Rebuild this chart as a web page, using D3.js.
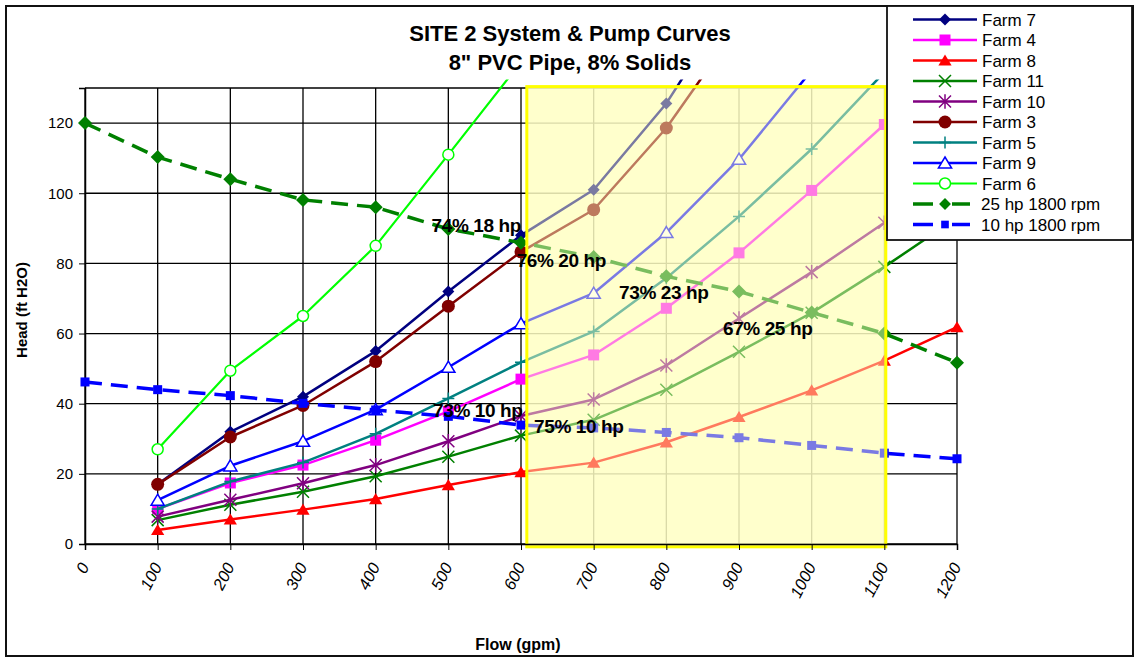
<!DOCTYPE html>
<html><head><meta charset="utf-8">
<script src="https://cdn.jsdelivr.net/npm/d3@7"></script>
<style>body{margin:0;background:#fff;} svg{display:block;font-family:"Liberation Sans",Arial,sans-serif;}</style>
</head><body>
<svg id="c" width="1135" height="659"></svg>
<script>
// ---- data ----
const flows = [0,100,200,300,400,500,600,700,800,900,1000,1100,1200];
const xTicks = [0,100,200,300,400,500,600,700,800,900,1000,1100,1200];
const yTicks = [0,20,40,60,80,100,120];
const farm7  = [null,17,32,42,55,72,88,101,125.6,158,null,null,null];
const farm4  = [null,10,17.4,22.5,29.6,37.8,47,53.9,67.2,83,100.8,119.6,null];
const farm8  = [null,4,7,9.8,12.8,16.8,20.5,23.2,29,36.2,43.8,52.3,61.8];
const farm11 = [null,6.8,11.2,14.9,19.3,24.9,30.9,35.4,44,54.8,65.9,79,93];
const farm10 = [null,7.8,12.6,17.3,22.5,29.3,36.5,41.2,50.9,64.3,77.5,91.6,108];
const farm3  = [null,17,30.5,39.5,52,67.8,83.3,95.3,118.6,148,null,null,null];
const farm5  = [null,10,17.8,23.2,31.4,41.5,51.8,60.6,75.8,93.4,112.6,134.5,null];
const farm9  = [null,12.5,22.3,29.3,38.3,50.4,62.8,71.5,88.8,109.7,135,null,null];
const farm6  = [null,27,49.4,65,85,111,137.4,null,null,null,null,null,null];
const pump25 = [120,110.3,104,98.1,96,89.8,85.9,81.8,76.3,72,66,60,51.7];
const pump10 = [46.2,44,42.3,40.1,38.2,36.4,33.9,33.1,31.8,30.3,28.1,25.9,24.3];
const seriesNames = ["Farm 7","Farm 4","Farm 8","Farm 11","Farm 10","Farm 3","Farm 5","Farm 9","Farm 6","25 hp 1800 rpm","10 hp 1800 rpm"];
const noteTexts = ["74% 18 hp","76% 20 hp","73% 23 hp","67% 25 hp","73% 10 hp","75% 10 hp"];
const noteFlow  = [477,594,735,878,479,618];
const noteHead  = [88.9,79,69.8,59.6,36.2,31.6];
const highlightFlow = [608,1102];
const highlightHead = [-0.8,130.4];

// ---- styles ----
const seriesData = [farm7,farm4,farm8,farm11,farm10,farm3,farm5,farm9,farm6,pump25,pump10];
const styles = [
  {c:"#000080",m:"diamond",s:6,w:2.5},
  {c:"#ff00ff",m:"square",s:5.5,w:2.5},
  {c:"#ff0000",m:"triangle",s:6,w:2.5},
  {c:"#008000",m:"x",s:6,w:2.5},
  {c:"#800080",m:"star",s:6,w:2.5},
  {c:"#800000",m:"circle",s:6.5,w:2.5},
  {c:"#008080",m:"plus",s:6,w:2.5},
  {c:"#0000ff",m:"otriangle",s:6,w:2.5},
  {c:"#00ff00",m:"ocircle",s:5.5,w:2.2},
  {c:"#008000",m:"diamond",s:7,w:3.5,dash:"17,9"},
  {c:"#0000ff",m:"square",s:4.5,w:3.5,dash:"17,9"}
];

const svg = d3.select("#c");
const x = d3.scaleLinear().domain([0,1200]).range([85,957]);
const y = d3.scaleLinear().domain([0,130]).range([544,88]);

// outer border
svg.append("rect").attr("x",6).attr("y",6).attr("width",1127).attr("height",650)
  .attr("fill","#fff").attr("stroke","#111").attr("stroke-width",2);

// gridlines
const g = svg.append("g");
g.selectAll(".vg").data(xTicks).join("line")
  .attr("x1",d=>x(d)).attr("x2",d=>x(d)).attr("y1",y(0)).attr("y2",y(130))
  .attr("stroke","#000").attr("stroke-width",1.3);
g.selectAll(".hg").data(yTicks.concat([130])).join("line")
  .attr("x1",x(0)).attr("x2",x(1200)).attr("y1",d=>y(d)).attr("y2",d=>y(d))
  .attr("stroke","#000").attr("stroke-width",1.3);

const ya = svg.append("g").attr("transform",`translate(${x(0)},0)`)
  .call(d3.axisLeft(y).tickValues(yTicks).tickSize(6));
ya.select(".domain").attr("stroke","#000").attr("stroke-width",1.5);
ya.selectAll(".tick line").attr("stroke","#000");
ya.selectAll("text").attr("font-size",15).attr("fill","#000").attr("x",-12);

// highlight (under part)
const hx0=x(highlightFlow[0]), hx1=x(highlightFlow[1]), hy0=y(highlightHead[1]), hy1=y(highlightHead[0]);
svg.append("rect").attr("x",hx0).attr("y",hy0).attr("width",hx1-hx0).attr("height",hy1-hy0)
  .attr("fill","#ffffc4").attr("opacity",0.72);

// clip
svg.append("clipPath").attr("id","clip").append("rect")
  .attr("x",x(0)-8).attr("y",y(132.4)).attr("width",x(1200)-x(0)+16).attr("height",y(-5)-y(132.4));

const plot = svg.append("g").attr("clip-path","url(#clip)");

function marker(sel, type, s, c){
  const p = sel.append("g");
  switch(type){
    case "diamond": p.append("path").attr("d",`M0,${-s}L${s},0L0,${s}L${-s},0Z`).attr("fill",c); break;
    case "square": p.append("rect").attr("x",-s).attr("y",-s).attr("width",2*s).attr("height",2*s).attr("fill",c); break;
    case "triangle": p.append("path").attr("d",`M0,${-s}L${s*1.1},${s*0.85}L${-s*1.1},${s*0.85}Z`).attr("fill",c); break;
    case "otriangle": p.append("path").attr("d",`M0,${-s}L${s*1.1},${s*0.85}L${-s*1.1},${s*0.85}Z`).attr("fill","#fff").attr("stroke",c).attr("stroke-width",1.5); break;
    case "circle": p.append("circle").attr("r",s).attr("fill",c); break;
    case "ocircle": p.append("circle").attr("r",s).attr("fill","#fff").attr("stroke",c).attr("stroke-width",1.5); break;
    case "x": p.append("path").attr("d",`M${-s},${-s}L${s},${s}M${-s},${s}L${s},${-s}`).attr("stroke",c).attr("stroke-width",1.5); break;
    case "plus": p.append("path").attr("d",`M${-s},0L${s},0M0,${-s}L0,${s}`).attr("stroke",c).attr("stroke-width",1.5); break;
    case "star": p.append("path").attr("d",`M${-s},${-s}L${s},${s}M${-s},${s}L${s},${-s}M0,${-s*1.2}L0,${s*1.2}`).attr("stroke",c).attr("stroke-width",1.5); break;
  }
  return p;
}

const line = d3.line().defined(d=>d.v!=null).x(d=>x(d.f)).y(d=>y(d.v));
seriesData.forEach((arr,i)=>{
  const st = styles[i];
  const pts = flows.map((f,j)=>({f, v:arr[j]}));
  plot.append("path").datum(pts).attr("d",line).attr("fill","none")
    .attr("stroke",st.c).attr("stroke-width",st.w).attr("stroke-dasharray",st.dash||null)
    .attr("stroke-linejoin","round");
  pts.filter(d=>d.v!=null && d.v<=131).forEach(d=>{
    marker(plot, st.m, st.s, st.c).attr("transform",`translate(${x(d.f)},${y(d.v)})`);
  });
});

// highlight overlay
svg.append("rect").attr("x",hx0).attr("y",hy0).attr("width",hx1-hx0).attr("height",hy1-hy0)
  .attr("fill","#ffffc4").attr("fill-opacity",0.48).attr("stroke","#ffff00").attr("stroke-width",3);

// x axis (drawn after overlay so labels stay crisp black)
const xa = svg.append("g").attr("transform",`translate(0,${y(0)})`)
  .call(d3.axisBottom(x).tickValues(xTicks).tickSize(6).tickFormat(d3.format("d")));
xa.select(".domain").attr("stroke","#000").attr("stroke-width",1.5);
xa.selectAll(".tick line").attr("stroke","#000");
xa.selectAll("text").attr("font-size",16.5).attr("font-style","italic").attr("fill","#000")
  .attr("text-anchor","end").attr("dy","0.35em")
  .attr("transform","translate(-1,20) rotate(-63)").attr("y",0).attr("x",0);

// annotations
svg.append("g").selectAll("text").data(noteTexts).join("text")
  .attr("x",(d,i)=>x(noteFlow[i])).attr("y",(d,i)=>y(noteHead[i]))
  .attr("font-size",19).attr("font-weight","bold").attr("fill","#000")
  .attr("letter-spacing","-0.4").text(d=>d);

// titles
svg.append("text").attr("x",570).attr("y",41).attr("text-anchor","middle")
  .attr("font-size",22).attr("font-weight","bold").text("SITE 2 System & Pump Curves");
svg.append("text").attr("x",570).attr("y",70).attr("text-anchor","middle")
  .attr("font-size",22).attr("font-weight","bold").text("8\" PVC Pipe, 8% Solids");
svg.append("text").attr("x",518).attr("y",650).attr("text-anchor","middle")
  .attr("font-size",16).attr("font-weight","bold").text("Flow (gpm)");
svg.append("text").attr("transform","translate(27,310) rotate(-90)").attr("text-anchor","middle")
  .attr("font-size",15).attr("font-weight","bold").text("Head (ft H2O)");

// legend
const lg = svg.append("g");
lg.append("rect").attr("x",887).attr("y",6).attr("width",245).attr("height",234)
  .attr("fill","#fff").attr("stroke","#111").attr("stroke-width",1.8);
seriesNames.forEach((nm,i)=>{
  const st = styles[i];
  const cy = 19.5 + i*20.5;
  const pump = !!st.dash;
  lg.append("line").attr("x1",913).attr("x2",pump?970:977).attr("y1",cy).attr("y2",cy)
    .attr("stroke",st.c).attr("stroke-width",st.w).attr("stroke-dasharray",pump?"20,19,18":null);
  marker(lg, st.m, pump?st.s*0.85:st.s, st.c).attr("transform",`translate(945,${cy})`);
  lg.append("text").attr("x",pump?981:982).attr("y",cy).attr("dy","0.36em")
    .attr("font-size",17).attr("fill","#000").text(nm);
});
</script>
</body></html>
